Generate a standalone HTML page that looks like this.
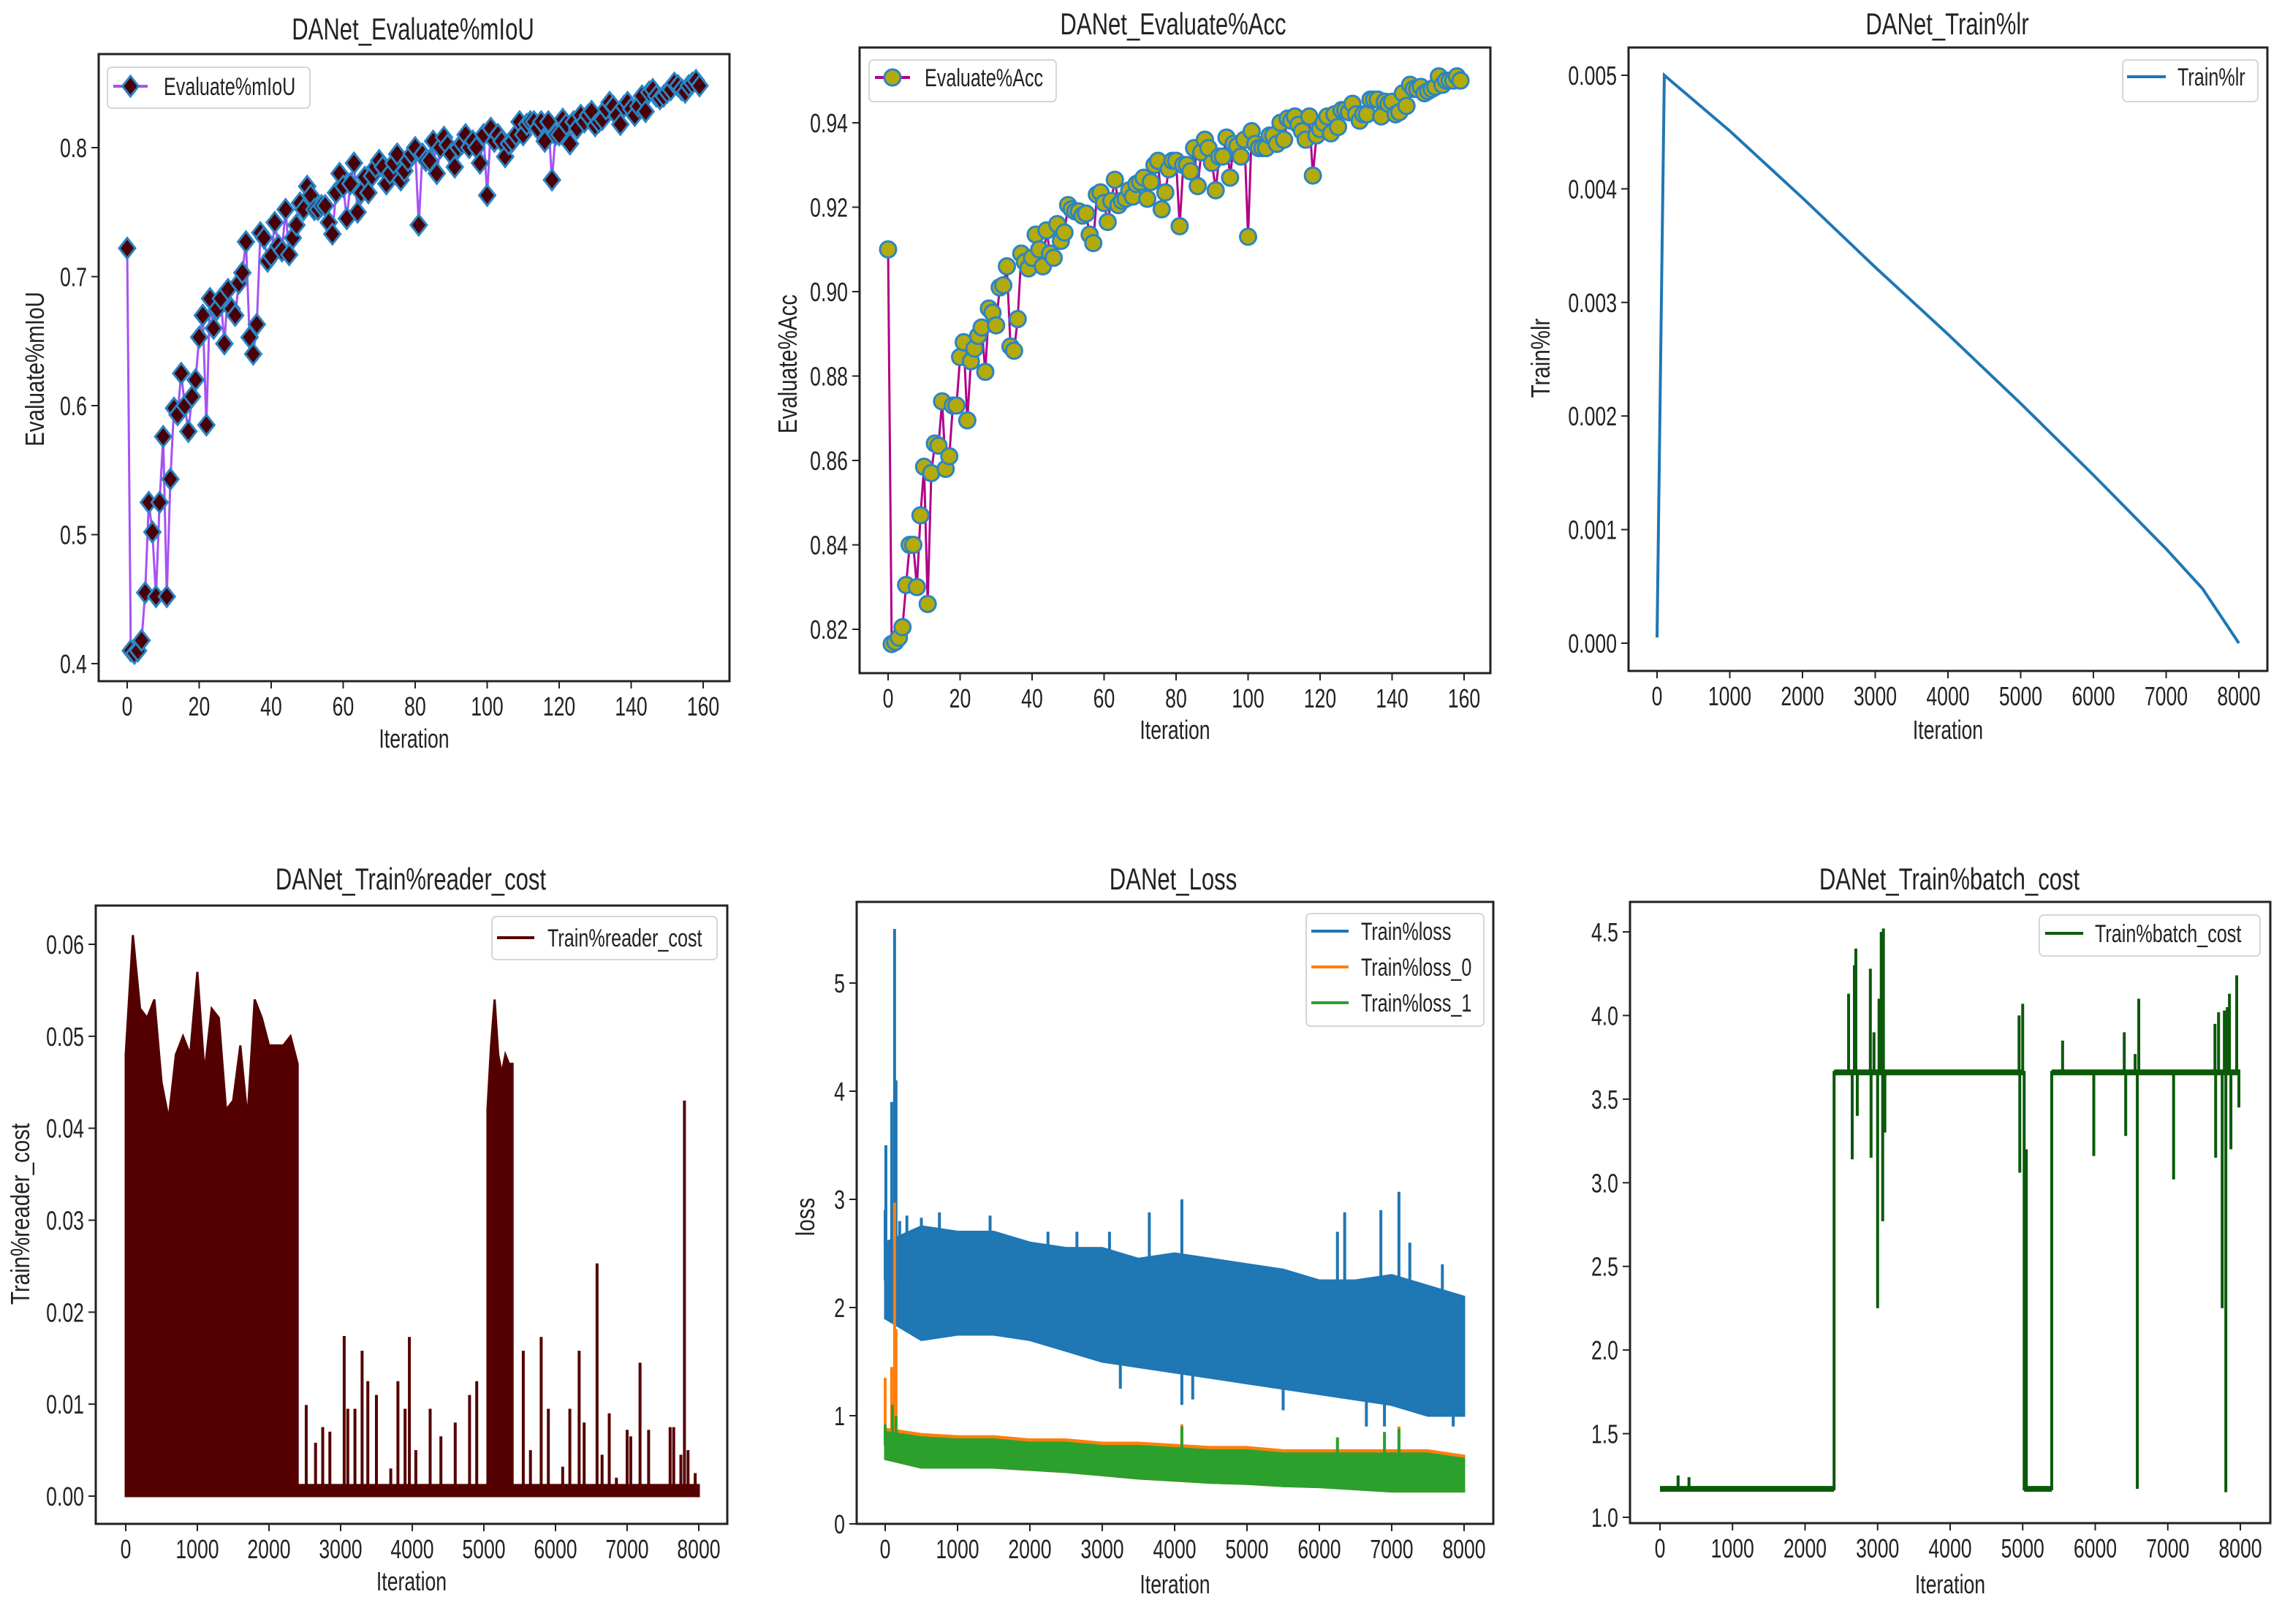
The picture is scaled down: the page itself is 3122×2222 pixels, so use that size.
<!DOCTYPE html>
<html><head><meta charset="utf-8"><style>
html,body{margin:0;padding:0;background:#fff;}
svg{display:block;}
text{font-family:"Liberation Sans","DejaVu Sans",sans-serif;fill:#222;}
</style></head>
<body>
<svg id="fig" xmlns="http://www.w3.org/2000/svg" width="3122" height="2222" viewBox="0 0 3122 2222">
<rect x="0" y="0" width="3122" height="2222" fill="#fff"/>
</svg>
<script>
// ---------- DATA ----------
const miouValues = [0.722,0.41,0.408,0.41,0.418,0.455,0.525,0.502,0.452,0.525,0.576,0.452,0.543,0.598,0.593,0.625,0.6,0.58,0.607,0.62,0.653,0.67,0.585,0.683,0.66,0.675,0.683,0.648,0.69,0.675,0.67,0.695,0.703,0.727,0.653,0.64,0.663,0.734,0.73,0.712,0.716,0.742,0.724,0.72,0.752,0.717,0.73,0.74,0.757,0.752,0.77,0.763,0.752,0.752,0.755,0.755,0.742,0.733,0.765,0.78,0.77,0.745,0.772,0.788,0.75,0.765,0.777,0.765,0.778,0.785,0.79,0.785,0.772,0.78,0.788,0.795,0.775,0.782,0.79,0.795,0.8,0.74,0.795,0.79,0.79,0.805,0.78,0.8,0.808,0.802,0.795,0.785,0.8,0.803,0.81,0.8,0.805,0.8,0.788,0.81,0.763,0.815,0.805,0.81,0.805,0.793,0.803,0.805,0.81,0.82,0.81,0.818,0.82,0.82,0.815,0.82,0.805,0.82,0.775,0.81,0.81,0.822,0.818,0.803,0.82,0.815,0.825,0.82,0.825,0.828,0.817,0.82,0.822,0.83,0.835,0.832,0.825,0.818,0.832,0.835,0.83,0.825,0.832,0.84,0.828,0.843,0.845,0.84,0.838,0.84,0.843,0.845,0.85,0.848,0.845,0.843,0.848,0.85,0.852,0.848];
const accValues = [0.91,0.8165,0.817,0.818,0.8205,0.8305,0.84,0.84,0.83,0.847,0.8585,0.826,0.857,0.864,0.8635,0.874,0.858,0.861,0.873,0.873,0.8845,0.888,0.8695,0.8835,0.8865,0.8895,0.8915,0.881,0.896,0.895,0.892,0.901,0.9015,0.906,0.887,0.886,0.8935,0.909,0.907,0.9055,0.908,0.9135,0.91,0.906,0.9145,0.909,0.908,0.916,0.912,0.914,0.9205,0.9195,0.919,0.919,0.918,0.9185,0.9135,0.9115,0.923,0.9235,0.921,0.9165,0.9215,0.9265,0.9205,0.9215,0.922,0.924,0.9225,0.9255,0.926,0.927,0.922,0.926,0.93,0.931,0.9195,0.9235,0.929,0.931,0.931,0.9155,0.93,0.93,0.9285,0.934,0.925,0.933,0.936,0.934,0.9305,0.924,0.932,0.932,0.9365,0.927,0.935,0.9345,0.932,0.936,0.913,0.938,0.935,0.934,0.934,0.934,0.937,0.937,0.935,0.94,0.936,0.941,0.9405,0.9415,0.9395,0.938,0.936,0.9415,0.9275,0.937,0.9385,0.94,0.9415,0.9375,0.942,0.939,0.943,0.943,0.9425,0.9445,0.942,0.9405,0.942,0.942,0.9455,0.9455,0.9455,0.9415,0.945,0.9445,0.945,0.942,0.9425,0.947,0.944,0.949,0.948,0.948,0.9485,0.947,0.9475,0.948,0.9485,0.951,0.949,0.95,0.95,0.95,0.951,0.95];
const lrIters = [0,100,1000,2000,3000,4000,5000,6000,7000,7500,8000];
const lrValues = [0.00005,0.005,0.00451,0.00392,0.00331,0.00272,0.00211,0.00148,0.00083,0.00048,0.0];
// reader cost
const readerBlock1Iters = [0,100,200,300,400,500,600,700,800,900,1000,1100,1200,1300,1400,1500,1600,1700,1800,1900,2000,2100,2200,2300,2400];
const readerBlock1Top = [0.048,0.061,0.053,0.052,0.054,0.045,0.041,0.048,0.05,0.048,0.057,0.046,0.053,0.052,0.042,0.043,0.049,0.041,0.054,0.052,0.049,0.049,0.049,0.05,0.047];
const readerBlock2Iters = [5050,5100,5150,5200,5250,5300,5350,5400];
const readerBlock2Top = [0.042,0.049,0.054,0.048,0.046,0.048,0.047,0.047];
const readerBaseline = 0.0012;
const readerSpikeIters = [2520,2650,2750,2850,3050,3100,3200,3300,3380,3500,3700,3800,3900,3960,4050,4250,4400,4600,4800,4900,5550,5650,5800,5900,6100,6200,6330,6400,6580,6650,6750,6850,7000,7050,7180,7300,7600,7650,7750,7800,7850,7950];
const readerSpikeValues = [0.0099,0.0058,0.0075,0.007,0.0174,0.0095,0.0095,0.0158,0.0125,0.011,0.003,0.0125,0.0095,0.0173,0.005,0.0095,0.0065,0.008,0.011,0.0125,0.0158,0.005,0.0173,0.0095,0.0032,0.0095,0.0158,0.008,0.0253,0.0045,0.009,0.002,0.0072,0.0065,0.0145,0.0072,0.0075,0.0075,0.0045,0.043,0.005,0.0025];
// loss
const lossBinIters = [0,500,1000,1500,2000,2500,3000,3500,4000,4500,5000,5500,6000,6500,7000,7500,8000];
const lossHi = [2.6,2.75,2.7,2.7,2.6,2.55,2.55,2.45,2.5,2.45,2.4,2.35,2.25,2.25,2.3,2.2,2.1];
const lossLo = [1.9,1.7,1.75,1.75,1.7,1.6,1.5,1.45,1.4,1.35,1.3,1.25,1.2,1.15,1.1,1.0,1.0];
const lossSpikeIters = [0,10,90,130,150,200,300,500,750,1450,2250,2650,3100,3250,3650,4100,4100,4250,5500,6250,6350,6650,6850,6900,7100,7250,7700,7850];
const lossSpikeValues = [2.9,3.5,3.9,5.5,4.1,2.8,2.85,2.83,2.88,2.85,2.7,2.7,2.7,1.25,2.88,3.0,1.1,1.15,1.05,2.7,2.88,0.9,2.9,0.9,3.07,2.6,2.4,0.9];
const loss0Hi = [0.88,0.83,0.81,0.81,0.78,0.78,0.75,0.75,0.73,0.71,0.71,0.68,0.68,0.68,0.68,0.68,0.63];
const loss0Lo = [0.6,0.52,0.52,0.52,0.5,0.48,0.45,0.42,0.4,0.38,0.37,0.35,0.34,0.32,0.3,0.3,0.3];
const loss0SpikeIters = [0,90,130,150,4100,7100];
const loss0SpikeValues = [1.35,1.45,2.97,1.8,0.92,0.9];
const loss1Hi = [0.85,0.8,0.78,0.78,0.75,0.75,0.72,0.72,0.7,0.68,0.68,0.65,0.65,0.65,0.65,0.65,0.6];
const loss1Lo = [0.6,0.52,0.52,0.52,0.5,0.48,0.45,0.42,0.4,0.38,0.37,0.35,0.34,0.32,0.3,0.3,0.3];
const loss1SpikeIters = [0,100,150,4100,6250,6900,7100];
const loss1SpikeValues = [0.92,1.1,1.0,0.9,0.8,0.85,0.88];
// batch cost
const batchSegStart = [0,2400,5020,5400];
const batchSegEnd = [2400,5020,5400,8000];
const batchSegLevel = [1.17,3.66,1.17,3.66];
const batchSpikeIters = [250,400,2600,2650,2680,2700,2720,2900,2910,2950,3000,3020,3050,3070,3080,3100,4950,4960,5000,5050,5550,5980,6400,6420,6550,6580,6600,7080,7650,7660,7700,7750,7780,7800,7820,7850,7870,7950,7980];
const batchSpikeValues = [1.25,1.24,4.13,3.14,4.3,4.4,3.4,4.28,3.15,3.9,2.25,4.1,4.5,2.77,4.52,3.3,4.0,3.06,4.07,3.2,3.85,3.16,3.9,3.28,3.77,1.17,4.1,3.02,3.95,3.15,4.02,2.25,4.03,1.15,4.05,4.13,3.2,4.24,3.45];
const iterTicks = [0,1000,2000,3000,4000,5000,6000,7000,8000];
const evalTicks = [0,20,40,60,80,100,120,140,160];

// ---------- HELPERS ----------
const NS = 'http://www.w3.org/2000/svg';
const svg = document.getElementById('fig');
function make(parent, tag, attrs, name) {
  const el = document.createElementNS(NS, tag);
  for (const k in attrs) el.setAttribute(k, attrs[k]);
  
  
  parent.appendChild(el);
  return el;
}
function txt(parent, x, y, s, size, anchor, name, sx, rot) {
  const t = make(parent, 'text', {'font-size': size, 'text-anchor': anchor,
    transform: 'translate(' + x + ',' + y + ')' + (rot ? ' rotate(-90)' : '') + ' scale(' + (sx || 0.74) + ',1)'}, name);
  t.textContent = s;
  return t;
}
function lin(d0, d1, r0, r1) { return v => r0 + (v - d0) * (r1 - r0) / (d1 - d0); }

function panel(cfg) {
  const g = make(svg, 'g', {}, cfg.name);
  const sx = lin(cfg.xd[0], cfg.xd[1], cfg.xr[0], cfg.xr[1]);
  const sy = lin(cfg.yd[0], cfg.yd[1], cfg.yr[0], cfg.yr[1]);
  const b = cfg.box;
  const clipId = cfg.name + '-clip';
  const cp = make(g, 'clipPath', {id: clipId}, 'plot-clip');
  make(cp, 'rect', {x: b[0], y: b[1], width: b[2] - b[0], height: b[3] - b[1]}, 'clip-rect');
  const plot = make(g, 'g', {'clip-path': 'url(#' + clipId + ')'}, 'plot-area');
  // ticks
  cfg.xticks.forEach(v => {
    make(g, 'line', {x1: sx(v), x2: sx(v), y1: b[3], y2: b[3] + 10, stroke: '#222', 'stroke-width': 2}, 'x-tick');
    txt(g, sx(v), b[3] + 47, String(v), 36, 'middle', 'x-tick-label');
  });
  cfg.yticks.forEach((v, i) => {
    make(g, 'line', {x1: b[0] - 10, x2: b[0], y1: sy(v), y2: sy(v), stroke: '#222', 'stroke-width': 2}, 'y-tick');
    txt(g, b[0] - 16, sy(v) + 13, cfg.yfmt(v), 36, 'end', 'y-tick-label');
  });
  make(g, 'rect', {x: b[0], y: b[1], width: b[2] - b[0], height: b[3] - b[1], fill: 'none', stroke: '#222', 'stroke-width': 3}, 'axes-frame');
  txt(g, cfg.title[0], cfg.title[1], cfg.title[2], 42, 'middle', 'chart-title', 0.74);
  txt(g, (b[0] + b[2]) / 2, cfg.xlabY, 'Iteration', 36, 'middle', 'x-axis-title');
  const yl = txt(g, cfg.ylab[0], cfg.ylab[1], cfg.ylab[2], 36, 'middle', 'y-axis-title', 0.82, true);
  return {g, plot, sx, sy, b, yl};
}
function legend(g, box, entries) {
  make(g, 'rect', {x: box[0], y: box[1], width: box[2] - box[0], height: box[3] - box[1], rx: 6, fill: '#fff', 'fill-opacity': 0.85, stroke: '#d6d6d6', 'stroke-width': 2}, 'legend-box');
  entries.forEach(e => {
    make(g, 'line', {x1: e.x1, x2: e.x2, y1: e.y, y2: e.y, stroke: e.color, 'stroke-width': 4}, 'legend-swatch');
    if (e.marker) e.marker((e.x1 + e.x2) / 2, e.y);
    txt(g, e.tx, e.y + 12, e.label, 34, 'start', 'legend-entry');
  });
}
function band(plot, sx, sy, iters, hi, lo, color, name) {
  let pts = [];
  iters.forEach((it, i) => pts.push(sx(it) + ',' + sy(hi[i])));
  for (let i = iters.length - 1; i >= 0; i--) pts.push(sx(iters[i]) + ',' + sy(lo[i]));
  make(plot, 'polygon', {points: pts.join(' '), fill: color, stroke: color, 'stroke-width': 3}, name);
}
function interp(iters, vals, x) {
  for (let i = 0; i < iters.length - 1; i++) if (x >= iters[i] && x <= iters[i + 1]) return vals[i] + (vals[i + 1] - vals[i]) * (x - iters[i]) / (iters[i + 1] - iters[i]);
  return vals[vals.length - 1];
}

// ---------- PANEL 1: mIoU ----------
(function () {
  const p = panel({name: 'miou-chart', box: [135, 74, 998, 932], xd: [0, 160], xr: [174, 962], yd: [0.4, 0.8], yr: [908, 202],
    xticks: evalTicks, yticks: [0.4, 0.5, 0.6, 0.7, 0.8], yfmt: v => v.toFixed(1),
    title: [565, 54, 'DANet_Evaluate%mIoU'], xlabY: 1023, ylab: [60, 505, 'Evaluate%mIoU']});
  const diamond = (x, y, parent) => make(parent || p.g, 'polygon', {points: [x, y - 14, x + 11, y, x, y + 14, x - 11, y].join(' ').replace(/(\S+) (\S+)/g, '$1,$2'), fill: '#4a0008', stroke: '#2b85c4', 'stroke-width': 3}, 'miou-marker');
  make(p.plot, 'polyline', {points: miouValues.map((v, i) => p.sx(i) + ',' + p.sy(v)).join(' '), fill: 'none', stroke: '#a652f5', 'stroke-width': 3}, 'miou-line');
  miouValues.forEach((v, i) => diamond(p.sx(i), p.sy(v), p.plot));
  legend(p.g, [147, 92, 424, 148], [{x1: 155, x2: 202, y: 118, color: '#a652f5', label: 'Evaluate%mIoU', tx: 224, marker: (x, y) => diamond(x, y)}]);
})();

// ---------- PANEL 2: Acc ----------
(function () {
  const p = panel({name: 'acc-chart', box: [1176, 65, 2039, 921], xd: [0, 160], xr: [1215, 2003], yd: [0.82, 0.94], yr: [861, 168],
    xticks: evalTicks, yticks: [0.82, 0.84, 0.86, 0.88, 0.90, 0.92, 0.94], yfmt: v => v.toFixed(2),
    title: [1605, 47, 'DANet_Evaluate%Acc'], xlabY: 1011, ylab: [1090, 498, 'Evaluate%Acc']});
  const dot = (x, y, parent) => make(parent || p.g, 'circle', {cx: x, cy: y, r: 11, fill: '#b3aa0c', stroke: '#2b85c4', 'stroke-width': 3}, 'acc-marker');
  make(p.plot, 'polyline', {points: accValues.map((v, i) => p.sx(i) + ',' + p.sy(v)).join(' '), fill: 'none', stroke: '#b0008a', 'stroke-width': 3}, 'acc-line');
  accValues.forEach((v, i) => dot(p.sx(i), p.sy(v), p.plot));
  legend(p.g, [1189, 82, 1445, 139], [{x1: 1197, x2: 1245, y: 106, color: '#b0008a', label: 'Evaluate%Acc', tx: 1265, marker: (x, y) => dot(x, y)}]);
})();

// ---------- PANEL 3: lr ----------
(function () {
  const p = panel({name: 'lr-chart', box: [2228, 65, 3102, 918], xd: [0, 8000], xr: [2267, 3063], yd: [0, 0.005], yr: [880, 103],
    xticks: iterTicks, yticks: [0, 0.001, 0.002, 0.003, 0.004, 0.005], yfmt: v => v.toFixed(3),
    title: [2664, 47, 'DANet_Train%lr'], xlabY: 1011, ylab: [2120, 490, 'Train%lr']});
  make(p.plot, 'polyline', {points: lrIters.map((it, i) => p.sx(it) + ',' + p.sy(lrValues[i])).join(' '), fill: 'none', stroke: '#1f77b4', 'stroke-width': 4}, 'lr-line');
  legend(p.g, [2904, 82, 3089, 139], [{x1: 2910, x2: 2963, y: 105, color: '#1f77b4', label: 'Train%lr', tx: 2979}]);
})();

// ---------- PANEL 4: reader cost ----------
(function () {
  const p = panel({name: 'reader-cost-chart', box: [131, 1239, 995, 2085], xd: [0, 8000], xr: [172, 956], yd: [0, 0.06], yr: [2047, 1292],
    xticks: iterTicks, yticks: [0, 0.01, 0.02, 0.03, 0.04, 0.05, 0.06], yfmt: v => v.toFixed(2),
    title: [562, 1217, 'DANet_Train%reader_cost'], xlabY: 2176, ylab: [40, 1661, 'Train%reader_cost']});
  const c = '#550000';
  band(p.plot, p.sx, p.sy, readerBlock1Iters, readerBlock1Top, readerBlock1Iters.map(() => 0), c, 'reader-cost-block-1');
  band(p.plot, p.sx, p.sy, readerBlock2Iters, readerBlock2Top, readerBlock2Iters.map(() => 0), c, 'reader-cost-block-2');
  band(p.plot, p.sx, p.sy, [2400, 8000], [readerBaseline, readerBaseline], [0, 0], c, 'reader-cost-baseline');
  readerSpikeIters.forEach((it, i) => {
    make(p.plot, 'line', {x1: p.sx(it), x2: p.sx(it), y1: p.sy(0), y2: p.sy(readerSpikeValues[i]), stroke: c, 'stroke-width': 4}, 'reader-cost-spike');
  });
  legend(p.g, [673, 1254, 981, 1313], [{x1: 680, x2: 731, y: 1283, color: c, label: 'Train%reader_cost', tx: 749}]);
})();

// ---------- PANEL 5: loss ----------
(function () {
  const p = panel({name: 'loss-chart', box: [1172, 1234, 2043, 2085], xd: [0, 8000], xr: [1211, 2003], yd: [0, 5], yr: [2085, 1345],
    xticks: iterTicks, yticks: [0, 1, 2, 3, 4, 5], yfmt: v => String(v),
    title: [1605, 1217, 'DANet_Loss'], xlabY: 2180, ylab: [1114, 1665, 'loss']});
  const series = [
    {hi: lossHi, lo: lossLo, si: lossSpikeIters, sv: lossSpikeValues, c: '#1f77b4', n: 'loss'},
    {hi: loss0Hi, lo: loss0Lo, si: loss0SpikeIters, sv: loss0SpikeValues, c: '#ff7f0e', n: 'loss-0'},
    {hi: loss1Hi, lo: loss1Lo, si: loss1SpikeIters, sv: loss1SpikeValues, c: '#2ca02c', n: 'loss-1'}];
  series.forEach(s => {
    band(p.plot, p.sx, p.sy, lossBinIters, s.hi, s.lo, s.c, s.n + '-band');
    s.si.forEach((it, i) => {
      const mid = (interp(lossBinIters, s.hi, it) + interp(lossBinIters, s.lo, it)) / 2;
      make(p.plot, 'line', {x1: p.sx(it), x2: p.sx(it), y1: p.sy(mid), y2: p.sy(s.sv[i]), stroke: s.c, 'stroke-width': 4}, s.n + '-spike');
    });
  });
  legend(p.g, [1787, 1250, 2030, 1404], [
    {x1: 1794, x2: 1845, y: 1274, color: '#1f77b4', label: 'Train%loss', tx: 1862},
    {x1: 1794, x2: 1845, y: 1323, color: '#ff7f0e', label: 'Train%loss_0', tx: 1862},
    {x1: 1794, x2: 1845, y: 1372, color: '#2ca02c', label: 'Train%loss_1', tx: 1862}]);
})();

// ---------- PANEL 6: batch cost ----------
(function () {
  const p = panel({name: 'batch-cost-chart', box: [2230, 1234, 3106, 2084], xd: [0, 8000], xr: [2271, 3065], yd: [1.0, 4.5], yr: [2076, 1275],
    xticks: iterTicks, yticks: [1.0, 1.5, 2.0, 2.5, 3.0, 3.5, 4.0, 4.5], yfmt: v => v.toFixed(1),
    title: [2667, 1217, 'DANet_Train%batch_cost'], xlabY: 2180, ylab: [2147, 1657, 'Train%batch_cost']});
  const cp = make(p.g, 'clipPath', {id: 'ylab-clip'}, 'y-label-clip');
  make(cp, 'rect', {x: 2150, y: 1300, width: 60, height: 700}, 'y-label-clip-rect');
  p.yl.setAttribute('clip-path', 'url(#ylab-clip)');
  const c = '#0b5a0b';
  const pts = [];
  batchSegStart.forEach((s, k) => {
    pts.push(p.sx(s) + ',' + p.sy(batchSegLevel[k]));
    batchSpikeIters.forEach((it, i) => {
      if (it >= s && it < batchSegEnd[k]) {
        pts.push(p.sx(it) + ',' + p.sy(batchSegLevel[k]));
        pts.push(p.sx(it) + ',' + p.sy(batchSpikeValues[i]));
        pts.push(p.sx(it) + ',' + p.sy(batchSegLevel[k]));
      }
    });
    pts.push(p.sx(batchSegEnd[k]) + ',' + p.sy(batchSegLevel[k]));
  });
  make(p.plot, 'polyline', {points: pts.join(' '), fill: 'none', stroke: c, 'stroke-width': 4}, 'batch-cost-line');
  batchSegStart.forEach((s, k) => {
    make(p.plot, 'line', {x1: p.sx(s), x2: p.sx(batchSegEnd[k]), y1: p.sy(batchSegLevel[k]), y2: p.sy(batchSegLevel[k]), stroke: c, 'stroke-width': 8}, 'batch-cost-baseline');
  });
  legend(p.g, [2790, 1252, 3092, 1308], [{x1: 2798, x2: 2850, y: 1277, color: c, label: 'Train%batch_cost', tx: 2866}]);
})();
</script>
</body></html>
